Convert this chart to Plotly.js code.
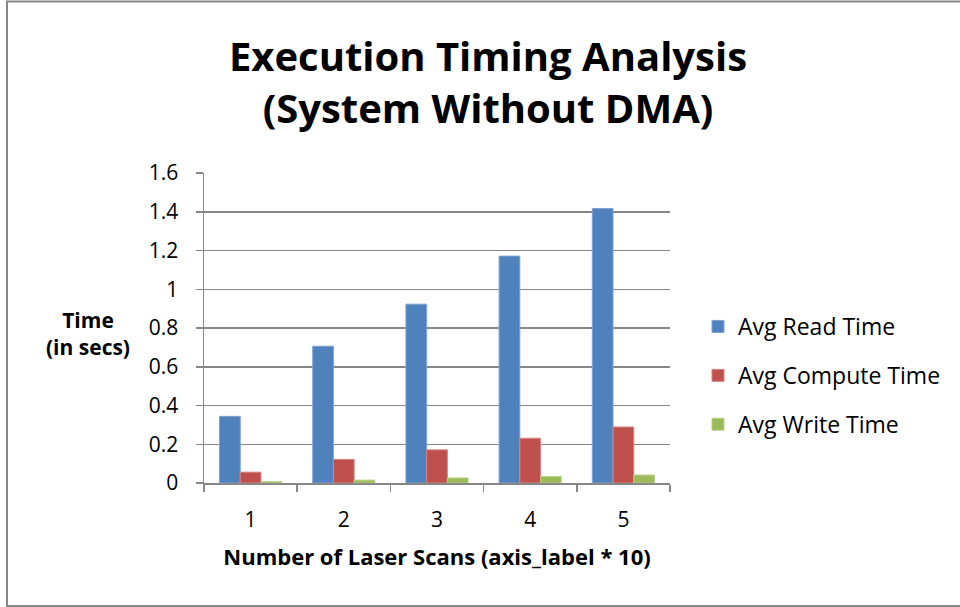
<!DOCTYPE html>
<html>
<head>
<meta charset="utf-8">
<script src="https://cdn.plot.ly/plotly-3.0.1.min.js"></script>
<style>html,body{margin:0;padding:0;background:#fff;}#chart{width:960px;height:607px;}</style>
</head>
<body>
<div id="chart"></div>
<script>
var categories = ["1", "2", "3", "4", "5"];
var readTime = [0.344, 0.706, 0.923, 1.171, 1.417];
var computeTime = [0.056, 0.122, 0.171, 0.231, 0.289];
var writeTime = [0.007, 0.015, 0.026, 0.034, 0.041];
var yTicks = [0, 0.2, 0.4, 0.6, 0.8, 1, 1.2, 1.4, 1.6];

var FONT = "'Open Sans', 'Noto Sans', sans-serif";

var traces = [
  {type: "bar", name: "Avg Read Time", x: categories, y: readTime, legendgroup: "a",
   marker: {color: "#4F81BD", line: {color: "#7FA3D2", width: 1}}},
  {type: "bar", name: "Avg Compute Time", x: categories, y: computeTime, legendgroup: "b",
   marker: {color: "#C0504D", line: {color: "#D58583", width: 1}}},
  {type: "bar", name: "Avg Write Time", x: categories, y: writeTime, legendgroup: "c",
   marker: {color: "#9BBB59", line: {color: "#B9CF8B", width: 1}}}
];

var L = 204, R = 670, T = 173, B = 483, W = 960, H = 607;
function px(x) { return (x - L) / (R - L); }
function py(y) { return (B - y) / (B - T); }

var layout = {
  width: W, height: H,
  margin: {l: L, r: W - R, t: T, b: H - B, pad: 0},
  paper_bgcolor: "#ffffff", plot_bgcolor: "#ffffff",
  font: {family: FONT, color: "#000000", size: 22},
  barmode: "group", bargap: 0.333, bargroupgap: 0,
  title: {
    text: "<b>Execution Timing Analysis<br>(System Without DMA)</b>",
    font: {family: FONT, size: 40, color: "#000"},
    x: 488 / W, xanchor: "center", xref: "container",
    y: 1 - 71 / H, yanchor: "middle", yref: "container"
  },
  xaxis: {
    type: "category",
    tickson: "boundaries",
    ticks: "outside", ticklen: 7, tickcolor: "#878787", tickwidth: 1.5,
    showline: true, linecolor: "#878787", linewidth: 1.5,
    showgrid: false, zeroline: false,
    tickfont: {family: FONT, size: 21},
    ticklabelstandoff: 17,
    title: {text: "<b>Number of Laser Scans (axis_label * 10)</b>",
            font: {family: FONT, size: 22}, standoff: 18},
    fixedrange: true
  },
  yaxis: {
    range: [0, 1.6], tickvals: yTicks, ticktext: yTicks.map(String),
    ticks: "outside", ticklen: 7, tickcolor: "#878787", tickwidth: 1.5,
    showline: true, linecolor: "#878787", linewidth: 1.5,
    showgrid: true, gridcolor: "#878787", gridwidth: 1.5,
    zeroline: false,
    tickfont: {family: FONT, size: 21},
    ticklabelstandoff: 13,
    fixedrange: true
  },
  showlegend: true,
  legend: {
    x: px(698), xanchor: "left", y: py(305), yanchor: "top",
    font: {family: FONT, size: 23}, traceorder: "grouped", tracegroupgap: 16,
    itemwidth: 30, bgcolor: "rgba(0,0,0,0)"
  },
  annotations: [{
    text: "<b>Time<br>(in secs)</b>", showarrow: false,
    xref: "paper", yref: "paper", x: px(88), y: py(333),
    xanchor: "center", yanchor: "middle",
    font: {family: FONT, size: 21}
  }],
  shapes: [
    {type: "line", xref: "paper", yref: "paper", x0: px(7), x1: px(7), y0: py(1.5), y1: py(606), line: {color: "#878787", width: 2}},
    {type: "line", xref: "paper", yref: "paper", x0: px(6), x1: px(960), y0: py(1.5), y1: py(1.5), line: {color: "#878787", width: 2}},
    {type: "line", xref: "paper", yref: "paper", x0: px(6), x1: px(960), y0: py(606), y1: py(606), line: {color: "#878787", width: 2}}
  ]
};

Plotly.newPlot("chart", traces, layout, {displayModeBar: false, staticPlot: true});
</script>
</body>
</html>
